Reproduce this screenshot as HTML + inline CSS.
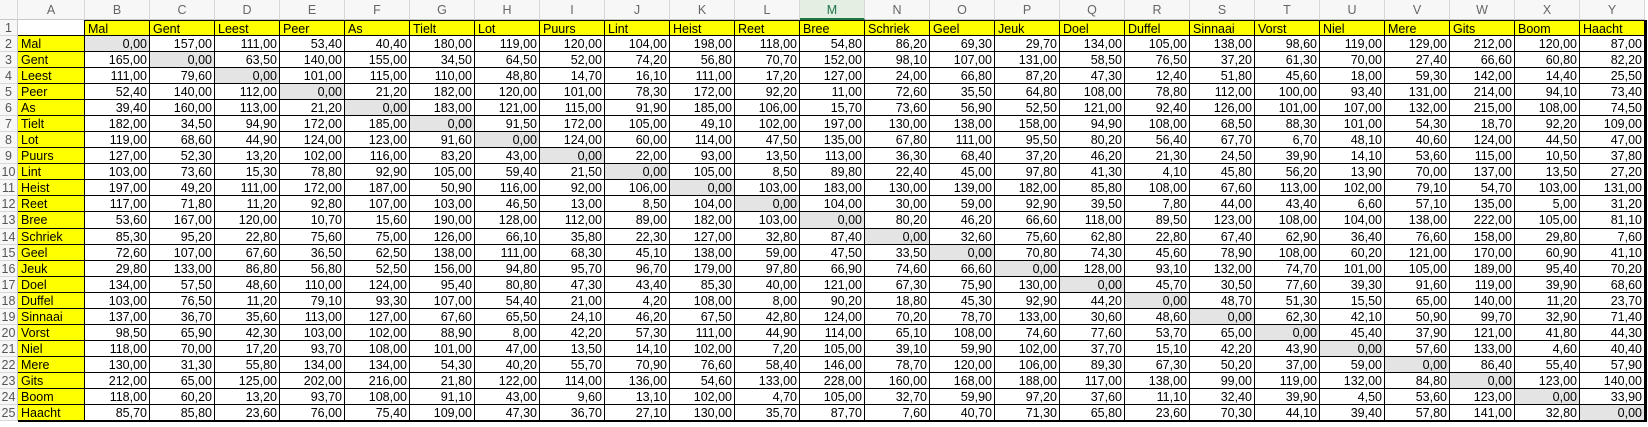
<!DOCTYPE html>
<html><head><meta charset="utf-8">
<style>
html,body{margin:0;padding:0;background:#fff;width:1648px;height:427px;overflow:hidden;}
#sheet{position:relative;width:1648px;height:427px;font-family:"Liberation Sans",sans-serif;font-size:12.5px;color:#000;}
.c{position:absolute;box-sizing:border-box;white-space:nowrap;overflow:hidden;line-height:16px;}
.hd{color:#666;text-align:center;line-height:20px;border-right:1px solid #d8d8d8;border-bottom:1px solid #c8c8c8;background:#f7f7f7;}
.rn{color:#555;text-align:center;border-bottom:1px solid #d8d8d8;border-right:1px solid #c8c8c8;background:#f7f7f7;}
.d{border-right:1px solid #000;border-bottom:1px solid #000;text-align:right;padding-right:2px;}
.y{background:#ffff00;text-align:left;padding-left:3px;}
.z{background:#e4e4e4;}
</style></head><body>
<div id="sheet"></div>
<script>
const cities = ["Mal","Gent","Leest","Peer","As","Tielt","Lot","Puurs","Lint","Heist","Reet","Bree","Schriek","Geel","Jeuk","Doel","Duffel","Sinnaai","Vorst","Niel","Mere","Gits","Boom","Haacht"];
const colLetters = ["A","B","C","D","E","F","G","H","I","J","K","L","M","N","O","P","Q","R","S","T","U","V","W","X","Y"];
const distances = [
"0,00 157,00 111,00 53,40 40,40 180,00 119,00 120,00 104,00 198,00 118,00 54,80 86,20 69,30 29,70 134,00 105,00 138,00 98,60 119,00 129,00 212,00 120,00 87,00",
"165,00 0,00 63,50 140,00 155,00 34,50 64,50 52,00 74,20 56,80 70,70 152,00 98,10 107,00 131,00 58,50 76,50 37,20 61,30 70,00 27,40 66,60 60,80 82,20",
"111,00 79,60 0,00 101,00 115,00 110,00 48,80 14,70 16,10 111,00 17,20 127,00 24,00 66,80 87,20 47,30 12,40 51,80 45,60 18,00 59,30 142,00 14,40 25,50",
"52,40 140,00 112,00 0,00 21,20 182,00 120,00 101,00 78,30 172,00 92,20 11,00 72,60 35,50 64,80 108,00 78,80 112,00 100,00 93,40 131,00 214,00 94,10 73,40",
"39,40 160,00 113,00 21,20 0,00 183,00 121,00 115,00 91,90 185,00 106,00 15,70 73,60 56,90 52,50 121,00 92,40 126,00 101,00 107,00 132,00 215,00 108,00 74,50",
"182,00 34,50 94,90 172,00 185,00 0,00 91,50 172,00 105,00 49,10 102,00 197,00 130,00 138,00 158,00 94,90 108,00 68,50 88,30 101,00 54,30 18,70 92,20 109,00",
"119,00 68,60 44,90 124,00 123,00 91,60 0,00 124,00 60,00 114,00 47,50 135,00 67,80 111,00 95,50 80,20 56,40 67,70 6,70 48,10 40,60 124,00 44,50 47,00",
"127,00 52,30 13,20 102,00 116,00 83,20 43,00 0,00 22,00 93,00 13,50 113,00 36,30 68,40 37,20 46,20 21,30 24,50 39,90 14,10 53,60 115,00 10,50 37,80",
"103,00 73,60 15,30 78,80 92,90 105,00 59,40 21,50 0,00 105,00 8,50 89,80 22,40 45,00 97,80 41,30 4,10 45,80 56,20 13,90 70,00 137,00 13,50 27,20",
"197,00 49,20 111,00 172,00 187,00 50,90 116,00 92,00 106,00 0,00 103,00 183,00 130,00 139,00 182,00 85,80 108,00 67,60 113,00 102,00 79,10 54,70 103,00 131,00",
"117,00 71,80 11,20 92,80 107,00 103,00 46,50 13,00 8,50 104,00 0,00 104,00 30,00 59,00 92,90 39,50 7,80 44,00 43,40 6,60 57,10 135,00 5,00 31,20",
"53,60 167,00 120,00 10,70 15,60 190,00 128,00 112,00 89,00 182,00 103,00 0,00 80,20 46,20 66,60 118,00 89,50 123,00 108,00 104,00 138,00 222,00 105,00 81,10",
"85,30 95,20 22,80 75,60 75,00 126,00 66,10 35,80 22,30 127,00 32,80 87,40 0,00 32,60 75,60 62,80 22,80 67,40 62,90 36,40 76,60 158,00 29,80 7,60",
"72,60 107,00 67,60 36,50 62,50 138,00 111,00 68,30 45,10 138,00 59,00 47,50 33,50 0,00 70,80 74,30 45,60 78,90 108,00 60,20 121,00 170,00 60,90 41,10",
"29,80 133,00 86,80 56,80 52,50 156,00 94,80 95,70 96,70 179,00 97,80 66,90 74,60 66,60 0,00 128,00 93,10 132,00 74,70 101,00 105,00 189,00 95,40 70,20",
"134,00 57,50 48,60 110,00 124,00 95,40 80,80 47,30 43,40 85,30 40,00 121,00 67,30 75,90 130,00 0,00 45,70 30,50 77,60 39,30 91,60 119,00 39,90 68,60",
"103,00 76,50 11,20 79,10 93,30 107,00 54,40 21,00 4,20 108,00 8,00 90,20 18,80 45,30 92,90 44,20 0,00 48,70 51,30 15,50 65,00 140,00 11,20 23,70",
"137,00 36,70 35,60 113,00 127,00 67,60 65,50 24,10 46,20 67,50 42,80 124,00 70,20 78,70 133,00 30,60 48,60 0,00 62,30 42,10 50,90 99,70 32,90 71,40",
"98,50 65,90 42,30 103,00 102,00 88,90 8,00 42,20 57,30 111,00 44,90 114,00 65,10 108,00 74,60 77,60 53,70 65,00 0,00 45,40 37,90 121,00 41,80 44,30",
"118,00 70,00 17,20 93,70 108,00 101,00 47,00 13,50 14,10 102,00 7,20 105,00 39,10 59,90 102,00 37,70 15,10 42,20 43,90 0,00 57,60 133,00 4,60 40,40",
"130,00 31,30 55,80 134,00 134,00 54,30 40,20 55,70 70,90 76,60 58,40 146,00 78,70 120,00 106,00 89,30 67,30 50,20 37,00 59,00 0,00 86,40 55,40 57,90",
"212,00 65,00 125,00 202,00 216,00 21,80 122,00 114,00 136,00 54,60 133,00 228,00 160,00 168,00 188,00 117,00 138,00 99,00 119,00 132,00 84,80 0,00 123,00 140,00",
"118,00 60,20 13,20 93,70 108,00 91,10 43,00 9,60 13,10 102,00 4,70 105,00 32,70 59,90 97,20 37,60 11,10 32,40 39,90 4,50 53,60 123,00 0,00 33,90",
"85,70 85,80 23,60 76,00 75,40 109,00 47,30 36,70 27,10 130,00 35,70 87,70 7,60 40,70 71,30 65,80 23,60 70,30 44,10 39,40 57,80 141,00 32,80 0,00"
];

const sheet = document.getElementById('sheet');
const RH = 16.04, TOP = 20, RNW = 18, AW = 67, CW = 65;
function colX(c){ return c===0 ? RNW : RNW + AW + (c-1)*CW; }
function colW(c){ return c===0 ? AW : CW; }
function rowY(r){ return TOP + (r-1)*RH; }
function cell(x,y,w,h,cls,txt){
  const d=document.createElement('div');
  d.className='c '+cls;
  d.style.left=x+'px';d.style.top=y+'px';d.style.width=w+'px';d.style.height=h+'px';
  d.textContent=txt;
  sheet.appendChild(d);
  return d;
}
// corner
let corner=cell(0,0,RNW,TOP,'hd','');


// column headers
colLetters.forEach((L,c)=>{
  const d=cell(colX(c),0,colW(c),TOP,'hd',L);
  
  
  if(L==='M'){d.style.background='#e2efe2';d.style.color='#217346';d.style.borderBottom='2px solid #217346';}
});
// row numbers
for(let r=1;r<=25;r++){
  const d=cell(0,rowY(r),RNW,RH,'rn',String(r));
  d.style.lineHeight=RH+'px';
  
  
}
// A1
let a1=cell(colX(0),rowY(1),AW,RH,'d','');
a1.style.borderRight='1px solid #000';


// header row names
cities.forEach((n,i)=>{
  const d=cell(colX(i+1),rowY(1),CW,RH,'d y',n);
  d.style.borderTop='1px solid #000';
  
  
});
// data rows
distances.forEach((row,i)=>{
  const r=i+2;
  const nd=cell(colX(0),rowY(r),AW,RH,'d y',cities[i]);
  
  
  row.split(' ').forEach((v,j)=>{
    const d=cell(colX(j+1),rowY(r),CW,RH,'d'+(i===j?' z':''),v);
    
    
  });
});
// thick outer borders
const rb=document.createElement('div');


rb.style.cssText='position:absolute;left:'+(colX(24)+CW-1)+'px;top:'+TOP+'px;width:3px;height:'+(25*RH+1)+'px;background:#000;';
sheet.appendChild(rb);
const bb=document.createElement('div');


bb.style.cssText='position:absolute;left:'+colX(0)+'px;top:'+(rowY(26)-1)+'px;width:'+(colX(24)+CW+2-colX(0))+'px;height:2px;background:#000;';
sheet.appendChild(bb);
</script>
</body></html>
